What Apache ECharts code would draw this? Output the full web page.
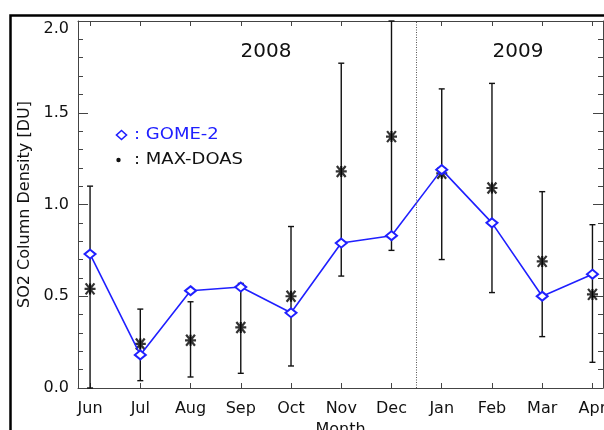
<!DOCTYPE html>
<html>
<head>
<meta charset="utf-8">
<script src="https://cdn.jsdelivr.net/npm/echarts@6/dist/echarts.min.js"></script>
<style>
html,body{margin:0;padding:0;background:#fff;}
#chart{width:604px;height:430px;}
</style>
</head>
<body>
<div id="chart"></div>
<script>
const months = ['Jun','Jul','Aug','Sep','Oct','Nov','Dec','Jan','Feb','Mar','Apr'];
const gome2 = [0.73, 0.18, 0.53, 0.55, 0.41, 0.79, 0.83, 1.19, 0.90, 0.50, 0.62];
const maxdoas = [0.54, 0.24, 0.26, 0.33, 0.50, 1.18, 1.37, 1.17, 1.09, 0.69, 0.51];
const errLow = [0.00, 0.04, 0.06, 0.08, 0.12, 0.61, 0.75, 0.70, 0.52, 0.28, 0.14];
const errHigh = [1.10, 0.43, 0.47, 0.57, 0.88, 1.77, 2.00, 1.63, 1.66, 1.07, 0.89];
const yearLabels = ['2008', '2009'];
const yearBreak = 6.5;

const FONT = 'DejaVu Sans';
const idx = months.map((m, i) => i);
const chart = echarts.init(document.getElementById('chart'), null, {renderer: 'canvas'});

const axisColor = '#444';
function xAxisCfg(pos, showLabel) {
  return {
    type: 'value', position: pos, min: -0.24, max: 10.21,
    axisLine: {show: true, onZero: false, lineStyle: {color: axisColor, width: 1}},
    axisTick: {show: true, inside: true, length: 5, customValues: idx, lineStyle: {color: axisColor}},
    axisLabel: showLabel ? {show: true, customValues: idx, formatter: v => months[Math.round(v)],
      color: '#111', fontFamily: FONT, fontSize: 16, margin: 13} : {show: false},
    splitLine: {show: false},
    name: showLabel ? 'Month' : '', nameLocation: 'middle', nameGap: 33,
    nameTextStyle: {color: '#111', fontFamily: FONT, fontSize: 16}
  };
}
function yAxisCfg(pos, showLabel) {
  return {
    type: 'value', position: pos, min: 0, max: 2, interval: 0.5,
    axisLine: {show: true, onZero: false, lineStyle: {color: axisColor, width: 1}},
    axisTick: {show: true, inside: true, length: 10, lineStyle: {color: axisColor}},
    minorTick: {show: true, splitNumber: 5, length: 5, lineStyle: {color: axisColor}},
    axisLabel: showLabel ? {show: true, color: '#111', fontFamily: FONT, fontSize: 16, margin: 9,
      formatter: v => v === 2 ? '{t|' + v.toFixed(1) + '}' : v.toFixed(1),
      rich: {t: {padding: [16, 0, 0, 0], fontFamily: FONT, fontSize: 16, color: '#111'}}} : {show: false},
    splitLine: {show: false},
    name: showLabel ? 'SO2 Column Density [DU]' : '', nameLocation: 'middle', nameGap: 42,
    nameTextStyle: {color: '#111', fontFamily: FONT, fontSize: 16}
  };
}

const option = {
  animation: false,
  backgroundColor: '#fff',
  grid: {left: 78, right: 1, top: 21, bottom: 42, containLabel: false, outerBoundsMode: 'none'},
  xAxis: [xAxisCfg('bottom', true), xAxisCfg('top', false)],
  yAxis: [yAxisCfg('left', true), yAxisCfg('right', false)],
  graphic: [
    {type: 'polyline', shape: {points: [[10.5, 440], [10.5, 15.5], [620, 15.5]]},
     style: {stroke: '#000', lineWidth: 2.5, fill: null}, z: 10},
    {type: 'text', x: 266, y: 52, style: {text: yearLabels[0], font: '20px "DejaVu Sans"', fill: '#111', align: 'center', verticalAlign: 'middle'}},
    {type: 'text', x: 518, y: 52, style: {text: yearLabels[1], font: '20px "DejaVu Sans"', fill: '#111', align: 'center', verticalAlign: 'middle'}},
    {type: 'polygon', shape: {points: [[121.5, 130.5], [126.5, 135], [121.5, 139.5], [116.5, 135]]},
     style: {stroke: '#2020ff', lineWidth: 1.6, fill: null}},
    {type: 'text', x: 134, y: 135, scaleX: 1.2, style: {text: ': GOME-2', font: '15px "DejaVu Sans"', fill: '#2020ff', verticalAlign: 'middle'}},
    {type: 'circle', shape: {cx: 118.5, cy: 160, r: 2.2}, style: {fill: '#111'}},
    {type: 'text', x: 134, y: 160, scaleX: 1.2, style: {text: ': MAX-DOAS', font: '15px "DejaVu Sans"', fill: '#111', verticalAlign: 'middle'}}
  ],
  series: [
    {
      name: 'MAX-DOAS error', type: 'custom', xAxisIndex: 0, yAxisIndex: 0,
      data: idx.map(i => [i, errLow[i], errHigh[i]]),
      renderItem: function (params, api) {
        const x = api.value(0);
        const pLo = api.coord([x, api.value(1)]);
        const pHi = api.coord([x, api.value(2)]);
        const c = 3;
        const st = {stroke: '#111', lineWidth: 1.4};
        return {type: 'group', children: [
          {type: 'line', shape: {x1: pLo[0], y1: pLo[1], x2: pHi[0], y2: pHi[1]}, style: st},
          {type: 'line', shape: {x1: pLo[0] - c, y1: pLo[1], x2: pLo[0] + c, y2: pLo[1]}, style: st},
          {type: 'line', shape: {x1: pHi[0] - c, y1: pHi[1], x2: pHi[0] + c, y2: pHi[1]}, style: st}
        ]};
      },
      markLine: {
        silent: true, symbol: ['none', 'none'], label: {show: false},
        lineStyle: {type: [1, 1.5], color: '#555', width: 1},
        data: [{xAxis: yearBreak}]
      },
      z: 2
    },
    {
      name: 'MAX-DOAS', type: 'scatter', xAxisIndex: 0, yAxisIndex: 0,
      data: idx.map(i => [i, maxdoas[i]]),
      symbol: 'path://M0,5L10,5M1,0L9,10M1,10L9,0M5,0L5,10',
      symbolSize: 11,
      itemStyle: {color: '#000', borderColor: '#000', borderWidth: 2.2},
      z: 3
    },
    {
      name: 'GOME-2', type: 'line', xAxisIndex: 0, yAxisIndex: 0,
      data: idx.map(i => [i, gome2[i]]),
      symbol: 'emptyDiamond', symbolSize: [11, 9],
      lineStyle: {color: '#2020ff', width: 1.6},
      itemStyle: {color: '#2020ff', borderColor: '#2020ff', borderWidth: 1.6},
      z: 4
    }
  ]
};
chart.setOption(option);
</script>
</body>
</html>
